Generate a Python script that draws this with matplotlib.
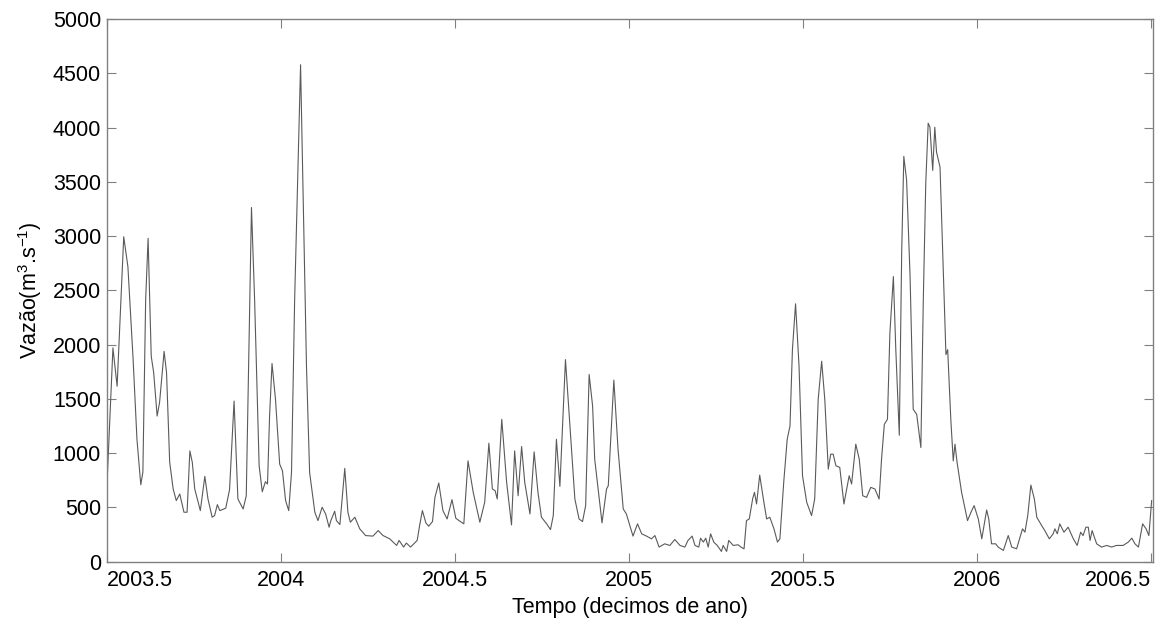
import matplotlib
matplotlib.use("Agg")
import matplotlib.pyplot as plt

plt.rcParams['font.family'] = ['Liberation Sans', 'DejaVu Sans']
plt.rcParams['mathtext.default'] = 'regular'

# Daily discharge (decimal year, m3/s)
tempo = [
    2003.501, 2003.518, 2003.530, 2003.549, 2003.561, 2003.576, 2003.587, 2003.598,
    2003.604, 2003.612, 2003.619, 2003.628, 2003.635, 2003.645, 2003.652, 2003.665,
    2003.672, 2003.681, 2003.691, 2003.700, 2003.710, 2003.722, 2003.731, 2003.739,
    2003.746, 2003.753, 2003.769, 2003.782, 2003.791, 2003.803, 2003.810, 2003.818,
    2003.825, 2003.842, 2003.853, 2003.866, 2003.877, 2003.892, 2003.901, 2003.916,
    2003.925, 2003.938, 2003.947, 2003.956, 2003.962, 2003.968, 2003.975, 2003.985,
    2003.997, 2004.005, 2004.014, 2004.023, 2004.031, 2004.040, 2004.057, 2004.074,
    2004.083, 2004.098, 2004.107, 2004.119, 2004.129, 2004.139, 2004.144, 2004.155,
    2004.160, 2004.170, 2004.184, 2004.193, 2004.200, 2004.213, 2004.227, 2004.244,
    2004.265, 2004.280, 2004.294, 2004.313, 2004.333, 2004.340, 2004.353, 2004.361,
    2004.373, 2004.392, 2004.399, 2004.407, 2004.417, 2004.425, 2004.436, 2004.443,
    2004.454, 2004.466, 2004.478, 2004.492, 2004.503, 2004.512, 2004.526, 2004.538,
    2004.553, 2004.572, 2004.586, 2004.598, 2004.608, 2004.616, 2004.622, 2004.635,
    2004.649, 2004.663, 2004.672, 2004.682, 2004.692, 2004.701, 2004.716, 2004.728,
    2004.739, 2004.749, 2004.764, 2004.775, 2004.783, 2004.792, 2004.802, 2004.818,
    2004.831, 2004.845, 2004.857, 2004.867, 2004.876, 2004.886, 2004.896, 2004.902,
    2004.923, 2004.936, 2004.941, 2004.957, 2004.969, 2004.984, 2004.993, 2005.012,
    2005.025, 2005.037, 2005.051, 2005.065, 2005.075, 2005.087, 2005.103, 2005.118,
    2005.132, 2005.147, 2005.161, 2005.170, 2005.182, 2005.190, 2005.201, 2005.206,
    2005.214, 2005.221, 2005.228, 2005.235, 2005.244, 2005.254, 2005.266, 2005.271,
    2005.281, 2005.287, 2005.300, 2005.314, 2005.322, 2005.331, 2005.338, 2005.346,
    2005.356, 2005.361, 2005.367, 2005.376, 2005.388, 2005.396, 2005.405, 2005.417,
    2005.427, 2005.434, 2005.445, 2005.455, 2005.463, 2005.470, 2005.479, 2005.489,
    2005.499, 2005.511, 2005.525, 2005.534, 2005.544, 2005.554, 2005.563, 2005.573,
    2005.580, 2005.587, 2005.595, 2005.606, 2005.618, 2005.633, 2005.640, 2005.652,
    2005.662, 2005.672, 2005.683, 2005.695, 2005.707, 2005.719, 2005.726, 2005.734,
    2005.743, 2005.750, 2005.760, 2005.767, 2005.777, 2005.784, 2005.790, 2005.798,
    2005.808, 2005.817, 2005.827, 2005.839, 2005.846, 2005.853, 2005.860, 2005.865,
    2005.873, 2005.879, 2005.884, 2005.894, 2005.903, 2005.911, 2005.916, 2005.925,
    2005.932, 2005.937, 2005.943, 2005.956, 2005.973, 2005.983, 2005.992, 2006.004,
    2006.014, 2006.028, 2006.034, 2006.042, 2006.054, 2006.061, 2006.076, 2006.090,
    2006.100, 2006.114, 2006.131, 2006.138, 2006.146, 2006.155, 2006.165, 2006.172,
    2006.186, 2006.195, 2006.208, 2006.219, 2006.224, 2006.231, 2006.238, 2006.250,
    2006.262, 2006.277, 2006.288, 2006.298, 2006.305, 2006.313, 2006.320, 2006.325,
    2006.331, 2006.344, 2006.358, 2006.373, 2006.387, 2006.401, 2006.420, 2006.435,
    2006.445, 2006.454, 2006.464, 2006.476, 2006.486, 2006.494, 2006.502,
]
vazao = [
    716, 1970, 1617, 2994, 2718, 1862, 1128, 709,
    825, 2413, 2979, 1893, 1743, 1342, 1468, 1938,
    1743, 917, 670, 563, 624, 456, 456, 1021,
    915, 670, 471, 786, 578, 410, 425, 526,
    471, 493, 663, 1480, 578, 486, 608, 3263,
    2413, 884, 645, 737, 716, 1342, 1826, 1495,
    899, 838, 563, 471, 823, 2413, 4578, 1801,
    823, 456, 379, 502, 440, 318, 379, 465,
    379, 342, 860, 456, 364, 410, 303, 241,
    236, 287, 241, 211, 150, 196, 135, 172,
    135, 196, 333, 471, 358, 327, 370, 593,
    725, 471, 394, 572, 401, 379, 349, 929,
    639, 364, 548, 1092, 670, 654, 578, 1312,
    731, 339, 1021, 608, 1061, 731, 440, 1012,
    639, 410, 349, 296, 425, 1128, 694, 1862,
    1250, 578, 394, 370, 517, 1725, 1434, 945,
    358, 670, 700, 1673, 1037, 486, 440, 236,
    349, 257, 236, 211, 241, 135, 165, 150,
    205, 150, 135, 196, 236, 150, 135, 217,
    181, 217, 135, 257, 181, 150, 95, 150,
    95, 196, 150, 156, 135, 119, 379, 394,
    584, 639, 532, 798, 548, 394, 410, 303,
    181, 211, 731, 1128, 1250, 1954, 2376, 1801,
    792, 548, 425, 578, 1495, 1847, 1495, 853,
    991, 991, 884, 869, 532, 792, 716, 1083,
    945, 608, 593, 685, 670, 578, 945, 1266,
    1312, 2107, 2627, 1954, 1165, 2871, 3734, 3514,
    2627, 1404, 1358, 1052, 2413, 3483, 4040, 4003,
    3605, 4003, 3773, 3636, 2718, 1908, 1954, 1312,
    929, 1083, 915, 639, 379, 456, 517, 394,
    211, 477, 394, 165, 165, 135, 104, 241,
    135, 119, 303, 272, 425, 706, 578, 410,
    333, 287, 211, 257, 303, 257, 349, 272,
    318, 211, 150, 272, 241, 318, 318, 196,
    287, 165, 135, 150, 135, 150, 150, 181,
    217, 165, 135, 349, 303, 241, 563,
]

xticks = [2003.5, 2004, 2004.5, 2005, 2005.5, 2006, 2006.5]
yticks = list(range(0, 5001, 500))

fig = plt.figure(figsize=(11.62, 6.24), dpi=100)
ax = fig.add_axes([0.0918, 0.0998, 0.9005, 0.8698])

ax.plot(tempo, vazao, color='#5a5a5a', linewidth=0.8)

ax.set_xlim(2003.5, 2006.506)
ax.set_ylim(0, 5000)
ax.set_xticks(xticks)
ax.set_xticklabels(['%g' % t for t in xticks])
ax.set_yticks(yticks)

for s in ax.spines.values():
    s.set_color('#808080')
    s.set_linewidth(1.0)
ax.tick_params(direction='in', length=6.5, width=0.8, color='#808080',
               top=True, right=True, labelsize=15.5, labelcolor='black')
ax.tick_params(axis='y', pad=4)
ax.tick_params(axis='x', pad=6)

labels = ax.get_xticklabels()
labels[0].set_horizontalalignment('left')
labels[-1].set_horizontalalignment('right')

ax.set_xlabel('Tempo (decimos de ano)', fontsize=15.5, labelpad=4)
ax.set_ylabel('Vazão(m$^{3}$.s$^{-1}$)', fontsize=15.5, labelpad=6)

fig.savefig('out.png', dpi=100)
